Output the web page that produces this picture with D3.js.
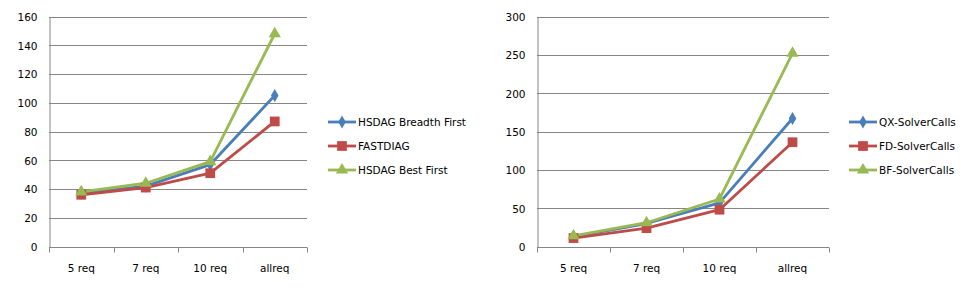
<!DOCTYPE html>
<html>
<head>
<meta charset="utf-8">
<script src="https://cdn.jsdelivr.net/npm/d3@7"></script>
<style>
  body { margin: 0; background: #fff; }
  text { font-family: "DejaVu Sans", Verdana, sans-serif; font-size: 10.5px; fill: #000; }
</style>
</head>
<body>
<div id="chart"></div>
<script>
// shared categories
const categories = ["5 req", "7 req", "10 req", "allreq"];

// left chart
const leftNames = ["HSDAG Breadth First", "FASTDIAG", "HSDAG Best First"];
const leftBreadth = [37, 42, 57, 105];
const leftFastdiag = [36, 41, 51, 87];
const leftBest = [38, 44, 59, 148];
const leftTicks = [0, 20, 40, 60, 80, 100, 120, 140, 160];

// right chart
const rightNames = ["QX-SolverCalls", "FD-SolverCalls", "BF-SolverCalls"];
const rightQX = [13, 30, 57, 167];
const rightFD = [11, 24, 48, 136];
const rightBF = [14, 31, 62, 252];
const rightTicks = [0, 50, 100, 150, 200, 250, 300];

const colors = ["#4a7ebb", "#be4b48", "#98b954"];
const markers = [d3.symbolDiamond, d3.symbolSquare, d3.symbolTriangle];
const markerSize = [50, 95, 65];

const svg = d3.select("#chart").append("svg")
    .attr("width", 972)
    .attr("height", 292);

function drawChart(opts) {
    let g = svg.append("g");

    let x = d3.scaleBand().domain(categories).range([opts.left, opts.right]);
    let y = d3.scaleLinear().domain([0, opts.max]).range([246.5, 16.5]);

    // gridlines
    g.append("g").selectAll("line")
        .data(opts.ticks.filter(t => t > 0))
        .enter().append("line")
        .attr("x1", opts.left).attr("x2", opts.right)
        .attr("y1", d => Math.round(y(d)) + 0.5).attr("y2", d => Math.round(y(d)) + 0.5)
        .attr("stroke", "#868686").attr("stroke-width", 1);

    // y axis
    let yAxis = g.append("g")
        .attr("transform", `translate(${opts.left + 0.5},0.5)`)
        .call(d3.axisLeft(y).tickValues(opts.ticks).tickSize(0).tickPadding(12));
    yAxis.select(".domain").attr("stroke", "#868686");

    // x axis
    let xAxis = g.append("g")
        .attr("transform", `translate(0,${Math.round(y(0)) + 0.5})`);
    xAxis.append("line")
        .attr("x1", opts.left).attr("x2", opts.right)
        .attr("stroke", "#868686");
    let bounds = [opts.left].concat(categories.map(c => x(c) + x.bandwidth()));
    xAxis.selectAll(".tk").data(bounds).enter().append("line")
        .attr("x1", d => Math.round(d) + 0.5).attr("x2", d => Math.round(d) + 0.5)
        .attr("y1", 0).attr("y2", 5)
        .attr("stroke", "#868686");
    xAxis.selectAll(".lbl").data(categories).enter().append("text")
        .attr("x", d => x(d) + x.bandwidth() / 2)
        .attr("y", 21)
        .attr("dy", "0.35em")
        .attr("text-anchor", "middle")
        .text(d => d);

    let line = d3.line()
        .x((d, i) => x(categories[i]) + x.bandwidth() / 2)
        .y(d => y(d));

    opts.series.forEach((s, k) => {
        g.append("path")
            .datum(s)
            .attr("d", line)
            .attr("fill", "none")
            .attr("stroke", colors[k])
            .attr("stroke-width", 2.8)
            .attr("stroke-linejoin", "round");
    });
    opts.series.forEach((s, k) => {
        g.selectAll(".m" + k).data(s).enter().append("path")
            .attr("d", d3.symbol().type(markers[k]).size(markerSize[k]))
            .attr("transform", (d, i) => `translate(${x(categories[i]) + x.bandwidth() / 2},${y(d)})`)
            .attr("fill", colors[k]);
    });

    // legend
    let leg = g.append("g");
    opts.names.forEach((n, k) => {
        let ly = 122 + k * 24;
        leg.append("line")
            .attr("x1", opts.legX).attr("x2", opts.legX + 28)
            .attr("y1", ly).attr("y2", ly)
            .attr("stroke", colors[k]).attr("stroke-width", 2.8);
        leg.append("path")
            .attr("d", d3.symbol().type(markers[k]).size(markerSize[k]))
            .attr("transform", `translate(${opts.legX + 14},${ly})`)
            .attr("fill", colors[k]);
        leg.append("text")
            .attr("x", opts.legX + 30)
            .attr("y", ly)
            .attr("dy", "0.35em")
            .text(n);
    });
}

drawChart({
    left: 49, right: 307, max: 160, ticks: leftTicks,
    series: [leftBreadth, leftFastdiag, leftBest],
    names: leftNames, legX: 328
});

drawChart({
    left: 537, right: 829, max: 300, ticks: rightTicks,
    series: [rightQX, rightFD, rightBF],
    names: rightNames, legX: 849
});
</script>
</body>
</html>
